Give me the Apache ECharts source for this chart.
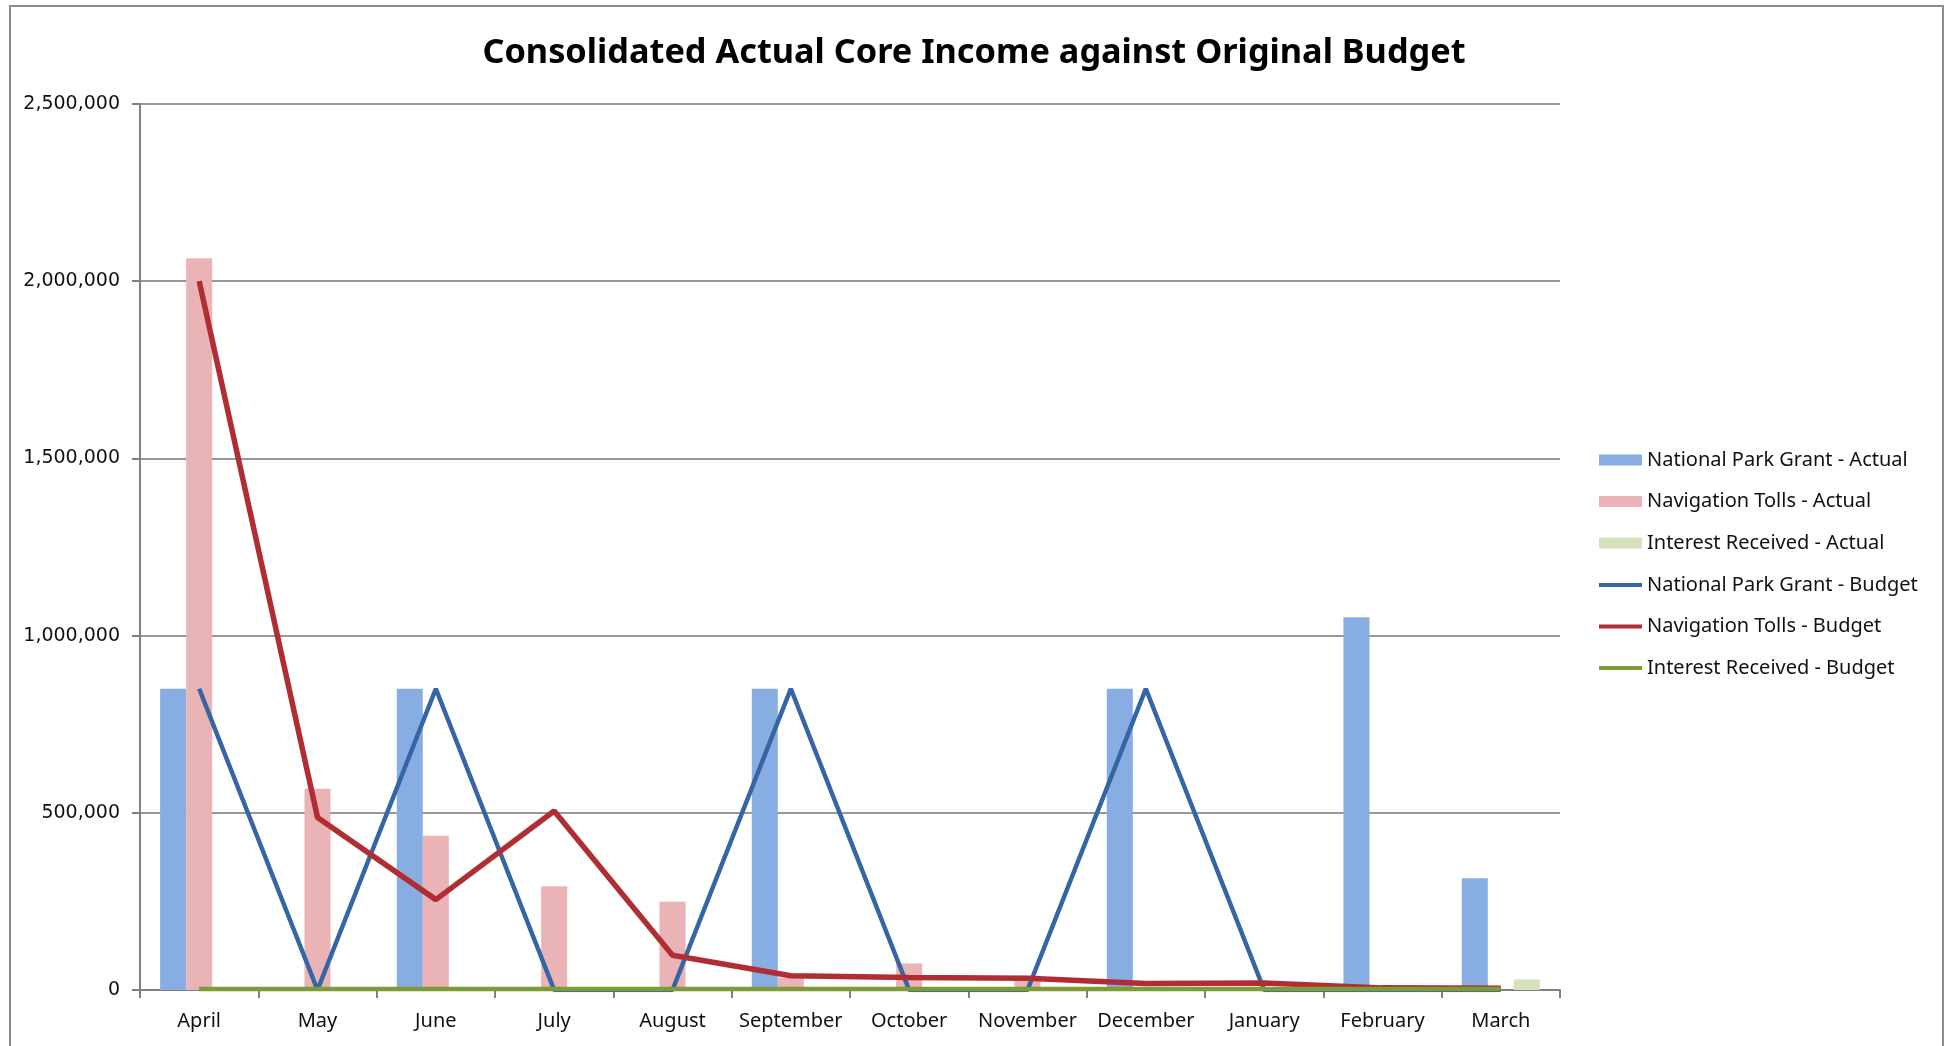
<!DOCTYPE html>
<html>
<head>
<meta charset="utf-8">
<script src="https://cdn.jsdelivr.net/npm/echarts@6/dist/echarts.min.js"></script>
<style>
html,body{margin:0;padding:0;background:#fff;}
#chart{width:1948px;height:1046px;}
#frame{position:absolute;left:9px;top:5px;width:1931px;height:1100px;border:2px solid #8c8c8c;pointer-events:none;}
</style>
</head>
<body>
<div id="chart"></div>
<div id="frame"></div>
<script>
const months = ['April','May','June','July','August','September','October','November','December','January','February','March'];
const yTicks = [0, 500000, 1000000, 1500000, 2000000, 2500000];

const npgActual = [850000, 0, 850000, 0, 0, 850000, 0, 0, 850000, 0, 1052000, 315000];
const navActual = [2065000, 568000, 435000, 293000, 249000, 35000, 75000, 40000, 0, 0, 0, 0];
const intActual = [0, 0, 0, 0, 0, 0, 0, 0, 0, 0, 0, 30000];

const npgBudget = [850000, 0, 850000, 0, 0, 850000, 0, 0, 850000, 0, 0, 0];
const navBudget = [2000000, 487000, 255000, 505000, 98000, 40000, 35000, 33000, 18000, 20000, 6000, 5000];
const intBudget = [3000, 3000, 3000, 3000, 3000, 3000, 3000, 3000, 3000, 3000, 3000, 3000];

const names = ['National Park Grant - Actual','Navigation Tolls - Actual','Interest Received - Actual',
               'National Park Grant - Budget','Navigation Tolls - Budget','Interest Received - Budget'];

const chart = echarts.init(document.getElementById('chart'));
const fmt = v => v.toString().replace(/\B(?=(\d{3})+(?!\d))/g, ',');
const legendText = {fontFamily:'Noto Sans', fontSize:20, color:'#111', lineHeight:20};

chart.setOption({
  animation:false,
  backgroundColor:'#fff',
  title:{
    text:'Consolidated Actual Core Income against Original Budget',
    left:'center', top:31,
    textStyle:{fontFamily:'Noto Sans', fontWeight:'bold', fontSize:34.3, color:'#000'}
  },
  legend:[
    {orient:'vertical', left:1594, top:445, itemWidth:43, itemHeight:11, itemGap:21.5,
     icon:'rect', textStyle:legendText, data:names.slice(0,3)},
    {orient:'vertical', left:1594, top:570, itemWidth:43, itemHeight:4, itemGap:21.5,
     icon:'rect', textStyle:legendText, data:names.slice(3)}
  ],
  grid:{left:140, right:388, top:104, bottom:56},
  xAxis:{
    type:'category', data:months, boundaryGap:true,
    axisLine:{lineStyle:{color:'#808080', width:2}},
    axisTick:{show:true, length:8, lineStyle:{color:'#808080', width:2}},
    axisLabel:{interval:0, fontFamily:'Noto Sans', fontSize:20, color:'#111', margin:21}
  },
  yAxis:{
    type:'value', min:yTicks[0], max:yTicks[yTicks.length-1], interval:yTicks[1]-yTicks[0],
    axisLine:{show:true, lineStyle:{color:'#808080', width:2}},
    axisTick:{show:true, length:8, lineStyle:{color:'#808080', width:2}},
    splitLine:{lineStyle:{color:'#767676', width:1.5}},
    axisLabel:{fontFamily:'DejaVu Sans', fontSize:19, color:'#111', margin:20, formatter:fmt}
  },
  series:[
    {name:names[0], type:'bar', data:npgActual, barGap:'0%', barCategoryGap:'34%', itemStyle:{color:'#88ade2'}},
    {name:names[1], type:'bar', data:navActual, itemStyle:{color:'#eab4b6'}},
    {name:names[2], type:'bar', data:intActual, itemStyle:{color:'#d6e2bb'}},
    {name:names[3], type:'line', data:npgBudget, symbol:'none', z:5, lineStyle:{color:'#3565a5', width:4.5}, itemStyle:{color:'#3565a5'}},
    {name:names[4], type:'line', data:navBudget, symbol:'none', z:6, lineStyle:{color:'#b02d34', width:5.5}, itemStyle:{color:'#b02d34'}},
    {name:names[5], type:'line', data:intBudget, symbol:'none', z:7, lineStyle:{color:'#7c9c36', width:4.5}, itemStyle:{color:'#7c9c36'}}
  ]
});
</script>
</body>
</html>
